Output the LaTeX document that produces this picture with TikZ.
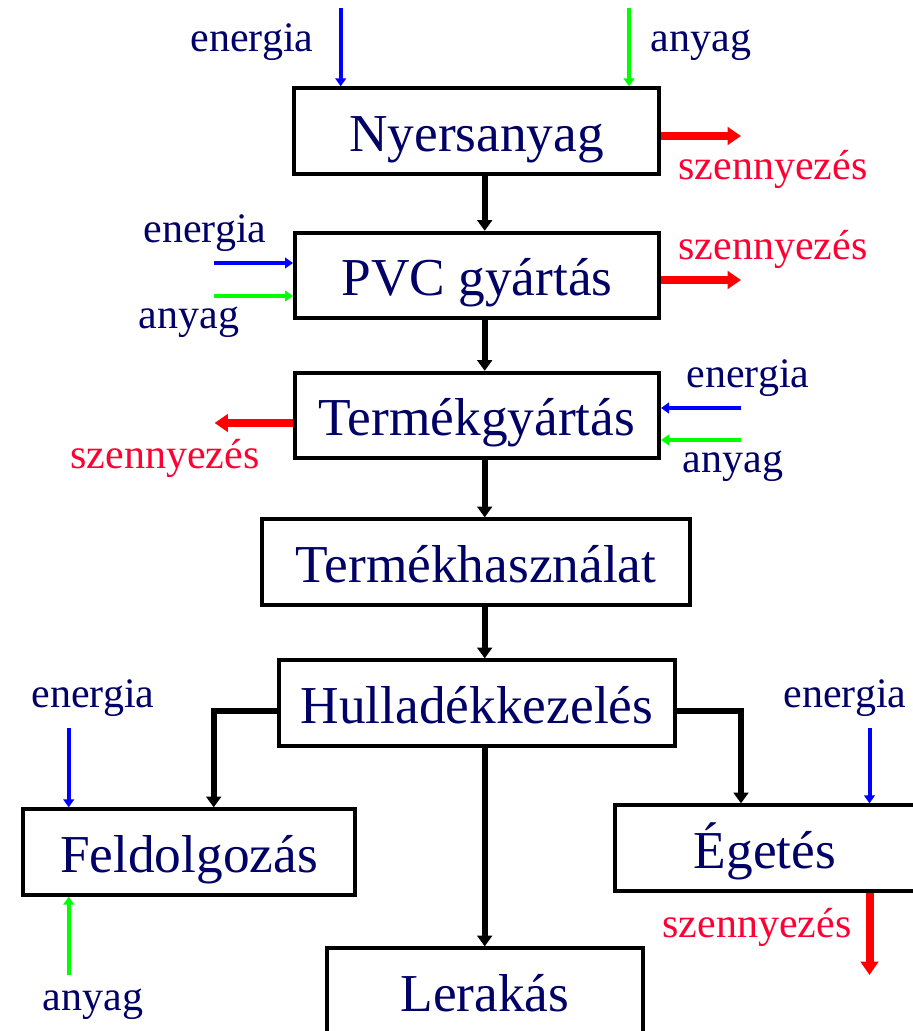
\documentclass[tikz,border=0pt]{standalone}
\usepackage{fontspec}
\setmainfont{Liberation Serif}
\usetikzlibrary{arrows.meta}
\definecolor{navy}{RGB}{0,0,102}
\definecolor{szred}{RGB}{255,0,51}
\definecolor{eblue}{RGB}{0,0,255}
\definecolor{agreen}{RGB}{0,255,0}
\begin{document}
\begin{tikzpicture}[x=0.75pt,y=-0.75pt,
  box/.style={draw,line width=3pt,text=navy,font=\fontsize{40}{48}\selectfont,inner sep=0pt,minimum height=64pt,text height=30pt,text depth=0pt},
  lbl/.style={text=navy,font=\fontsize{31.5}{38}\selectfont,inner sep=0pt,anchor=base},
  szlbl/.style={lbl,text=szred},
  flow/.style={line width=4.5pt,-{Triangle[width=11pt,length=8pt]}},
  ein/.style={eblue,line width=3pt,-{Triangle[width=8pt,length=6pt]}},
  ain/.style={agreen,line width=3pt,-{Triangle[width=8pt,length=6pt]}},
  szout/.style={red,line width=6pt,-{Triangle[width=13pt,length=10pt]}}]
\useasboundingbox (0,0) rectangle (913,1031);
% boxes
\node[box,minimum width=274pt] (nyers) at (476.5,131) {Nyersanyag};
\node[box,minimum width=273pt] (pvc) at (477,275.5) {PVC gyártás};
\node[box,minimum width=273pt] (termgy) at (477,415.5) {Termékgyártás};
\node[box,minimum width=321pt] (termh) at (476,562) {Termékhasználat};
\node[box,minimum width=297pt] (hull) at (477,703) {Hulladékkezelés};
\node[box,minimum width=249pt] (feld) at (189,852) {Feldolgozás};
\node[box,minimum width=225pt] (eget) at (765,848) {Égetés};
\node[box,minimum width=237pt] (lerak) at (485,991) {Lerakás};
% main flow
\coordinate (spine) at (484.7,0);
\foreach \a/\b in {nyers/pvc,pvc/termgy,termgy/termh,termh/hull,hull/lerak}
  \draw[flow] (\a.south -| spine) -- (\b.north -| spine);
\coordinate (bl) at (213.7,711);
\coordinate (br) at (741,711);
\draw[flow] (hull.west |- bl) -- (bl) -- (feld.north -| bl);
\draw[flow] (hull.east |- br) -- (br) -- (eget.north -| br);
% Nyersanyag
\node[lbl] (en1) at (252,52) {energia};
\node[lbl] (an1) at (701,52) {anyag};
\coordinate (e1) at (340.7,8);
\coordinate (a1) at (629,8);
\draw[ein] (e1) -- (nyers.north -| e1);
\draw[ain] (a1) -- (nyers.north -| a1);
\coordinate (s1) at (741,136);
\draw[szout] (nyers.east |- s1) -- (s1);
\node[szlbl] (sz1) at (773,179) {szennyezés};
% PVC gyartas
\node[lbl] (en2) at (205,242) {energia};
\node[lbl] (an2) at (189,328) {anyag};
\coordinate (e2) at (213.6,263);
\coordinate (a2) at (213.6,296);
\draw[ein] (e2) -- (pvc.west |- e2);
\draw[ain] (a2) -- (pvc.west |- a2);
\coordinate (s2) at (741,280);
\draw[szout] (pvc.east |- s2) -- (s2);
\node[szlbl] (sz2) at (773,259) {szennyezés};
% Termekgyartas
\node[lbl] (en3) at (748,387) {energia};
\node[lbl] (an3) at (733,472) {anyag};
\coordinate (e3) at (741,408);
\coordinate (a3) at (741,440);
\draw[ein] (e3) -- (termgy.east |- e3);
\draw[ain] (a3) -- (termgy.east |- a3);
\coordinate (s3) at (214.6,423);
\draw[szout] (termgy.west |- s3) -- (s3);
\node[szlbl] (sz3) at (165,468) {szennyezés};
% Feldolgozas
\node[lbl] (en4) at (93,707) {energia};
\node[lbl] (an4) at (93,1010) {anyag};
\coordinate (e4) at (68.7,728);
\coordinate (a4) at (68.7,975);
\draw[ein] (e4) -- (feld.north -| e4);
\draw[ain] (a4) -- (feld.south -| a4);
% Egetes
\node[lbl] (en5) at (845,707) {energia};
\coordinate (e5) at (869.5,728);
\draw[ein] (e5) -- (eget.north -| e5);
\coordinate (s5) at (869.5,975);
\draw[szout] (eget.south -| s5) -- (s5);
\node[szlbl] (sz5) at (757,937) {szennyezés};
\end{tikzpicture}
\end{document}
